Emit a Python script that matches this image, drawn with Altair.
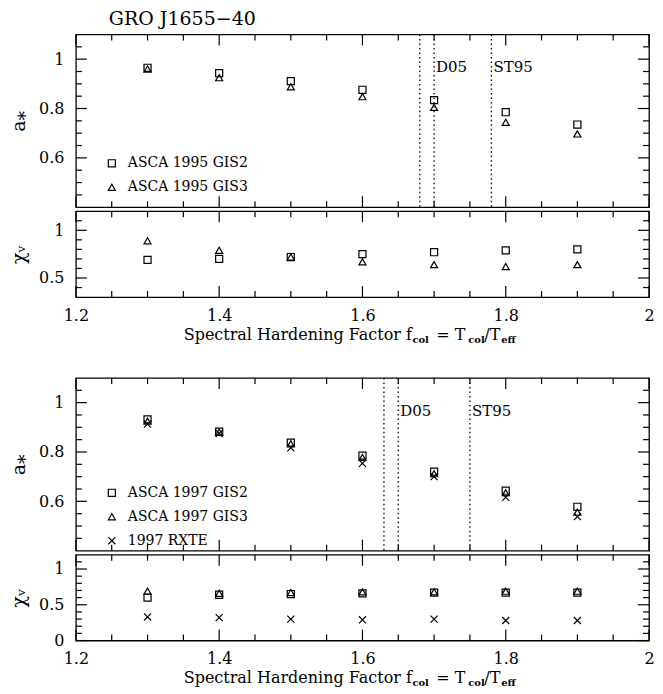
import altair as alt
import pandas as pd

FONT = "DejaVu Serif"

# ---------------- data ----------------
f_col = [1.3, 1.4, 1.5, 1.6, 1.7, 1.8, 1.9]

series_95 = ["ASCA 1995 GIS2", "ASCA 1995 GIS3"]
a_gis2_95 = [0.965, 0.943, 0.911, 0.876, 0.834, 0.785, 0.735]
a_gis3_95 = [0.960, 0.925, 0.888, 0.848, 0.805, 0.744, 0.697]
chi_gis2_95 = [0.69, 0.70, 0.72, 0.75, 0.77, 0.79, 0.80]
chi_gis3_95 = [0.89, 0.79, 0.72, 0.67, 0.64, 0.62, 0.64]

series_97 = ["ASCA 1997 GIS2", "ASCA 1997 GIS3", "1997 RXTE"]
a_gis2_97 = [0.932, 0.882, 0.838, 0.785, 0.720, 0.643, 0.578]
a_gis3_97 = [0.925, 0.880, 0.833, 0.778, 0.712, 0.635, 0.556]
a_rxte_97 = [0.913, 0.875, 0.817, 0.754, 0.700, 0.616, 0.538]
chi_gis2_97 = [0.60, 0.64, 0.65, 0.66, 0.67, 0.67, 0.67]
chi_gis3_97 = [0.69, 0.66, 0.67, 0.68, 0.68, 0.69, 0.69]
chi_rxte_97 = [0.33, 0.32, 0.30, 0.29, 0.30, 0.28, 0.28]

vlines_95 = [1.68, 1.70, 1.78]
vlines_97 = [1.63, 1.65, 1.75]
ref_labels = ["D05", "ST95"]
ref_pos_95 = [1.70, 1.78]
ref_pos_97 = [1.65, 1.75]

x_domain = [1.2, 2.0]
x_major = [1.2, 1.4, 1.6, 1.8, 2.0]
x_minor = [1.25, 1.3, 1.35, 1.45, 1.5, 1.55, 1.65, 1.7, 1.75, 1.85, 1.9, 1.95]
a_domain = [0.4, 1.1]
a_major = [0.6, 0.8, 1.0]
a_minor = [0.45, 0.5, 0.55, 0.65, 0.7, 0.75, 0.85, 0.9, 0.95, 1.05]
chi95_domain = [0.3, 1.2]
chi95_major = [0.5, 1.0]
chi95_minor = [0.4, 0.6, 0.7, 0.8, 0.9, 1.1]
chi97_domain = [0.0, 1.2]
chi97_major = [0.0, 0.5, 1.0]
chi97_minor = [0.1, 0.2, 0.3, 0.4, 0.6, 0.7, 0.8, 0.9, 1.1]

title_text = "GRO J1655\u221240"
xtitle_parts = ["Spectral Hardening Factor f", "col", "= T", "col", "/T", "eff"]

# ---------------- layout constants ----------------
W = 574
HA = 173
HC = 86
MAJ = 11
MIN = 6
SHAPES = ["square", "triangle-up", "M-1,-1L1,1M1,-1L-1,1"]
XT_POS = [108, 337, 361, 393, 409, 426]   # x offsets of x-title pieces (px from plot left)


def long_df(series, values):
    rows = []
    for name, vals in zip(series, values):
        for xv, yv in zip(f_col, vals):
            rows.append({"x": xv, "y": yv, "series": name})
    return pd.DataFrame(rows)


def panel(df, series, ydom, H, ymaj, ymin, ytitle, is_chi,
          vlines=None, rpos=None, legend=None, title=None):
    xs = alt.Scale(domain=x_domain, nice=False, zero=False)
    ys = alt.Scale(domain=ydom, nice=False, zero=False)
    if is_chi:
        xaxis = alt.Axis(values=x_major, format="~g", ticks=False, domain=False,
                         grid=False, title=None, labelPadding=10, labelFlush=False,
                         labelFontSize=16)
    else:
        xaxis = None
    yaxis = alt.Axis(values=ymaj, format="~g", ticks=False, domain=False, grid=False,
                     title=ytitle, labelPadding=12, titlePadding=10, labelFontSize=16,
                     titleFontSize=19, titleFontWeight="normal")

    def X():
        return alt.X("x:Q", scale=xs, axis=xaxis)

    def Y():
        return alt.Y("y:Q", scale=ys, axis=yaxis)

    one = pd.DataFrame({"k": [0]})
    layers = []
    # dotted reference lines
    if vlines is not None:
        layers.append(alt.Chart(pd.DataFrame({"x": vlines})).mark_rule(
            color="black", strokeWidth=1.3, strokeDash=[1.5, 3]).encode(x=X()))
        layers.append(alt.Chart(pd.DataFrame({"x": rpos, "t": ref_labels})).mark_text(
            align="left", baseline="middle", dx=2, font=FONT, fontSize=15,
            color="black").encode(x=X(), y=alt.value(33), text="t:N"))

    # points
    layers.append(alt.Chart(df).mark_point(
        filled=False, size=50, strokeWidth=1.2, color="black", opacity=1).encode(
        x=X(), y=Y(),
        shape=alt.Shape("series:N", scale=alt.Scale(domain=series, range=SHAPES[:len(series)]),
                        legend=legend)))

    # inward ticks on all four sides
    for vals, ln in ((x_major, MAJ), (x_minor, MIN)):
        d = pd.DataFrame({"x": vals})
        layers.append(alt.Chart(d).mark_rule(color="black", strokeWidth=1.2).encode(
            x=X(), y=alt.value(H), y2=alt.value(H - ln)))
        layers.append(alt.Chart(d).mark_rule(color="black", strokeWidth=1.2).encode(
            x=X(), y=alt.value(0), y2=alt.value(ln)))
    for vals, ln in ((ymaj, MAJ), (ymin, MIN)):
        d = pd.DataFrame({"y": vals})
        layers.append(alt.Chart(d).mark_rule(color="black", strokeWidth=1.2).encode(
            y=Y(), x=alt.value(0), x2=alt.value(ln)))
        layers.append(alt.Chart(d).mark_rule(color="black", strokeWidth=1.2).encode(
            y=Y(), x=alt.value(W), x2=alt.value(W - ln)))

    # chart title as text above the frame
    if title is not None:
        layers.append(alt.Chart(one).mark_text(
            text=title, align="left", baseline="middle", font=FONT, fontSize=19,
            color="black").encode(x=alt.value(33), y=alt.value(-16)))

    # x-axis title with subscripts (text marks)
    if is_chi:
        for i, part in enumerate(xtitle_parts):
            sub = i % 2 == 1
            layers.append(alt.Chart(one).mark_text(
                text=part, align="left", baseline="middle", font=FONT,
                fontSize=10 if sub else 16, fontWeight="bold" if sub else "normal",
                color="black").encode(
                x=alt.value(XT_POS[i]), y=alt.value(H + 38 + (5 if sub else 0))))

    return alt.layer(*layers).properties(width=W, height=H)


def legend_at(x, y):
    return alt.Legend(orient="none", legendX=x, legendY=y, title=None,
                      labelFont=FONT, labelFontSize=14, labelColor="black",
                      symbolSize=50, symbolStrokeWidth=1.2, symbolStrokeColor="black",
                      symbolFillColor="transparent", rowPadding=10, labelOffset=9,
                      padding=0)


df_a95 = long_df(series_95, [a_gis2_95, a_gis3_95])
df_c95 = long_df(series_95, [chi_gis2_95, chi_gis3_95])
df_a97 = long_df(series_97, [a_gis2_97, a_gis3_97, a_rxte_97])
df_c97 = long_df(series_97, [chi_gis2_97, chi_gis3_97, chi_rxte_97])

a95 = panel(df_a95, series_95, a_domain, HA, a_major, a_minor, "a\u204e", False,
            vlines_95, ref_pos_95, legend_at(29, 122), title=title_text)
c95 = panel(df_c95, series_95, chi95_domain, HC, chi95_major, chi95_minor, "\u03c7\u1d65", True)
a97 = panel(df_a97, series_97, a_domain, HA, a_major, a_minor, "a\u204e", False,
            vlines_97, ref_pos_97, legend_at(29, 108))
c97 = panel(df_c97, series_97, chi97_domain, HC, chi97_major, chi97_minor, "\u03c7\u1d65", True)

top = alt.vconcat(a95, c95, spacing=0).resolve_scale(shape="independent")
bottom = alt.vconcat(a97, c97, spacing=0).resolve_scale(shape="independent")

chart = alt.vconcat(top, bottom, spacing=30).resolve_scale(shape="independent").configure(
    padding={"left": 0, "top": 0, "right": 0, "bottom": 0}, background="white"
).configure_view(stroke="black", strokeWidth=1.3).configure_axis(
    labelFont=FONT, titleFont=FONT, labelColor="black", titleColor="black")

chart.save("out.html", embed_options={"renderer": "svg", "actions": False})
